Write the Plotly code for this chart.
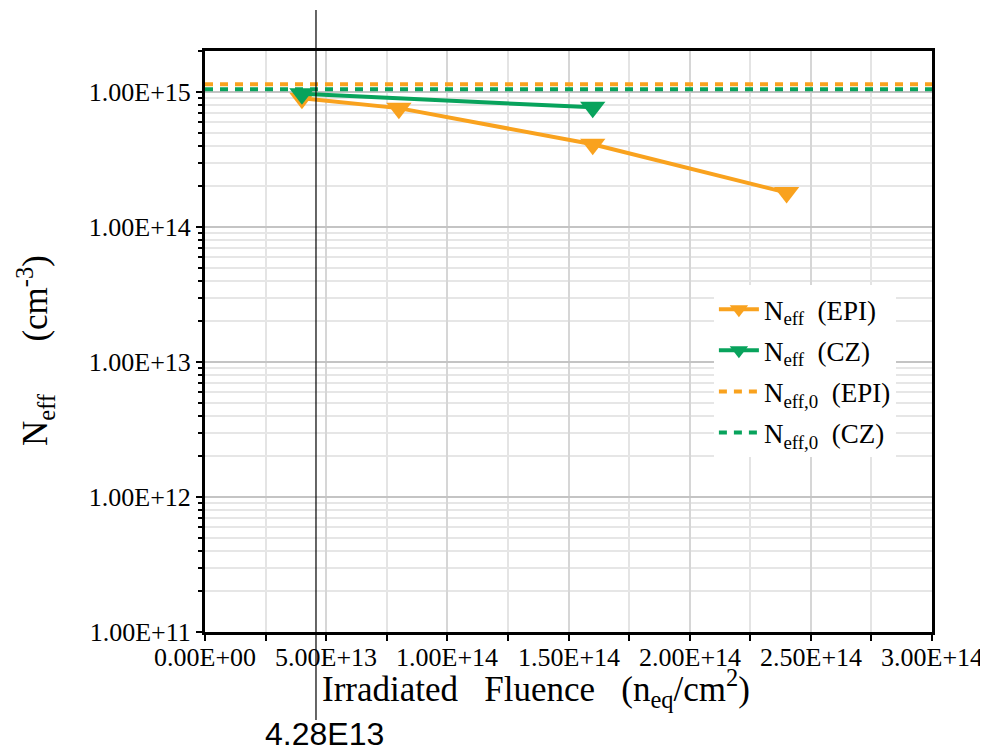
import plotly.graph_objects as go

# ---- data ----
epi_fluence = [4.0e13, 8.0e13, 1.6e14, 2.4e14]
epi_neff = [9.0e14, 7.6e14, 4.1e14, 1.8e14]
cz_fluence = [4.0e13, 1.6e14]
cz_neff = [9.7e14, 7.7e14]
epi_neff0 = 1.14e15
cz_neff0 = 1.05e15
x_span = [0.0, 3.0e14]
x_ticks = [0, 5e13, 1e14, 1.5e14, 2e14, 2.5e14, 3e14]
x_tick_labels = ["0.00E+00", "5.00E+13", "1.00E+14", "1.50E+14", "2.00E+14", "2.50E+14", "3.00E+14"]
y_ticks = [1e11, 1e12, 1e13, 1e14, 1e15]
y_tick_labels = ["1.00E+11", "1.00E+12", "1.00E+13", "1.00E+14", "1.00E+15"]
cursor_x = 4.58e13
cursor_label = "4.28E13"

ORANGE = "#F9A21E"
GREEN = "#08A35C"
SERIF = "Liberation Serif"
NB = "\u00a0"
PH = 581.0  # plot height in px (for paper offsets)

fig = go.Figure()
fig.add_trace(go.Scatter(
    x=epi_fluence, y=epi_neff, mode="lines+markers",
    name=f"N<sub>eff</sub>{NB}{NB}(EPI)", legendgroup="a",
    line=dict(color=ORANGE, width=4),
    marker=dict(symbol="triangle-down", size=22, color=ORANGE),
    cliponaxis=False,
))
fig.add_trace(go.Scatter(
    x=cz_fluence, y=cz_neff, mode="lines+markers",
    name=f"N<sub>eff</sub>{NB}{NB}(CZ)", legendgroup="b",
    line=dict(color=GREEN, width=4),
    marker=dict(symbol="triangle-down", size=22, color=GREEN),
    cliponaxis=False,
))
fig.add_trace(go.Scatter(
    x=x_span, y=[epi_neff0, epi_neff0], mode="lines",
    name=f"N<sub>eff,0</sub>{NB}{NB}(EPI)", legendgroup="c",
    line=dict(color=ORANGE, width=4, dash="8px,7px"),
))
fig.add_trace(go.Scatter(
    x=x_span, y=[cz_neff0, cz_neff0], mode="lines",
    name=f"N<sub>eff,0</sub>{NB}{NB}(CZ)", legendgroup="d",
    line=dict(color=GREEN, width=4, dash="8px,7px"),
))

fig.update_layout(
    width=988, height=752,
    margin=dict(l=197, r=64, t=43, b=128),
    paper_bgcolor="white", plot_bgcolor="white",
    font=dict(family=SERIF, size=26, color="black"),
    showlegend=True,
    legend=dict(
        x=0.70, y=0.597, xanchor="left", yanchor="top",
        bgcolor="white", borderwidth=0,
        font=dict(family=SERIF, size=27, color="black"),
        itemwidth=40, tracegroupgap=3,
    ),
)

fig.update_xaxes(
    range=x_span, tickmode="array", tickvals=x_ticks, ticktext=x_tick_labels,
    showticklabels=False,
    ticks="outside", ticklen=6, tickwidth=2, tickcolor="black",
    showline=True, linecolor="black", linewidth=3, mirror=True,
    showgrid=True, gridcolor="#d6d6d6", gridwidth=1.5,
    minor=dict(dtick=2.5e13, ticks="outside", ticklen=6, tickwidth=2, tickcolor="black",
               showgrid=True, gridcolor="#e4e4e4", gridwidth=1.5),
    zeroline=False,
)
fig.update_yaxes(
    type="log", range=[11, 15.304], tickmode="array", tickvals=y_ticks, ticktext=y_tick_labels,
    ticks="outside", ticklen=6, tickwidth=2, tickcolor="black",
    tickfont=dict(family=SERIF, size=26, color="black"),
    showline=True, linecolor="black", linewidth=3, mirror=True,
    showgrid=True, gridcolor="#c4c4c4", gridwidth=1.5,
    minor=dict(dtick="D1", ticks="outside", ticklen=4, tickwidth=2, tickcolor="black",
               showgrid=True, gridcolor="#e6e6e6", gridwidth=1.5),
    zeroline=False,
)

# x tick labels as annotations anchored to the data axis
for v, lab in zip(x_ticks, x_tick_labels):
    fig.add_annotation(
        text=lab, xref="x", yref="paper", x=v, y=-9 / PH,
        xanchor="center", yanchor="top", showarrow=False,
        font=dict(family=SERIF, size=26, color="black"),
    )

# axis titles
fig.add_annotation(
    text=f"Irradiated{NB}{NB}{NB}Fluence{NB}{NB}{NB}(n<sub>eq</sub>/cm<sup>2</sup>)",
    xref="paper", yref="paper", x=0.455, y=-56 / PH, xanchor="center", yanchor="middle",
    showarrow=False, font=dict(family=SERIF, size=35, color="black"),
)
fig.add_annotation(
    text=f"N<sub>eff</sub>{NB}{NB}{NB}{NB}{NB}{NB}(cm<sup>-3</sup>)",
    xref="paper", yref="paper", x=-0.234, y=0.485, xanchor="center", yanchor="middle",
    textangle=-90, showarrow=False, font=dict(family=SERIF, size=35, color="black"),
)

# cursor line and label
fig.add_shape(type="line", xref="x", yref="paper", x0=cursor_x, x1=cursor_x,
              y0=-88 / PH, y1=622 / PH, line=dict(color="black", width=1.2), layer="above")
fig.add_annotation(
    text=cursor_label, xref="x", yref="paper", x=cursor_x, y=-82 / PH,
    xanchor="center", yanchor="top", xshift=9, showarrow=False,
    font=dict(family="Liberation Sans", size=32, color="black"),
)

fig.write_html("out.html")
